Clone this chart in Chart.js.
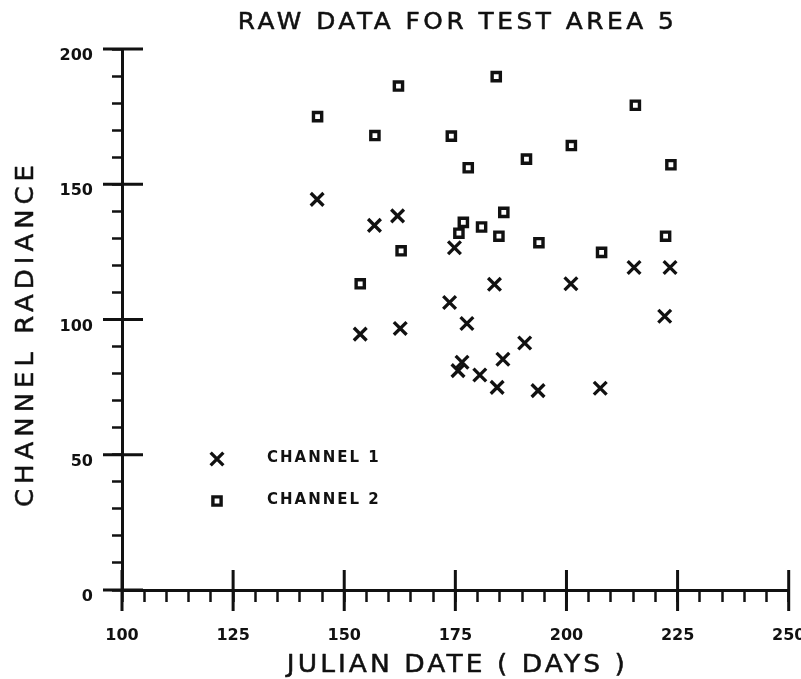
<!DOCTYPE html>
<html>
<head>
<meta charset="utf-8">
<script src="https://cdn.jsdelivr.net/npm/chart.js@4.4.1/dist/chart.umd.min.js"></script>
<style>
  html, body { margin: 0; padding: 0; background: #fff; }
  #wrap { width: 801px; height: 679px; }
</style>
</head>
<body>
<div id="wrap"><canvas id="rawChart"></canvas></div>
<script>
// chart text
const titleText = 'RAW DATA FOR TEST AREA 5';
const xTitle = 'JULIAN DATE ( DAYS )';
const yTitle = 'CHANNEL RADIANCE';
const seriesNames = ['CHANNEL 1', 'CHANNEL 2'];

// channel 1 (crosses): julian day / radiance
const ch1Days   = [143.9, 153.6, 156.8, 162.0, 162.6, 173.7, 174.8, 175.6, 176.5, 177.6, 180.5,
                   183.8, 184.4, 185.7, 190.6, 193.6, 201.0, 207.6, 215.2, 222.1, 223.3];
const ch1Values = [144.4,  94.6, 134.8, 138.3,  96.7, 106.3, 126.5,  81.1,  84.2,  98.5,  79.5,
                   113.0,  74.9,  85.3,  91.3,  73.7, 113.2,  74.6, 119.2, 101.2, 119.2];

// channel 2 (squares)
const ch2Days   = [144.0, 153.6, 156.9, 162.2, 162.8, 174.1, 175.8, 176.8, 177.9, 180.9,
                   184.2, 184.8, 185.9, 191.0, 193.8, 201.1, 207.9, 215.5, 222.3, 223.5];
const ch2Values = [175.0, 113.2, 168.0, 186.3, 125.4, 167.8, 131.9, 135.9, 156.1, 134.2,
                   189.8, 130.8, 139.6, 159.3, 128.4, 164.3, 124.8, 179.2, 130.8, 157.2];

// axes
const xTicks = [100, 125, 150, 175, 200, 225, 250];
const yTicks = [0, 50, 100, 150, 200];
const xMinorStep = 5;
const yMinorStep = 10;

const ink = '#111';

const toPoints = (xs, ys) => xs.map((d, i) => ({ x: d, y: ys[i] }));

// wide plotter-like lettering: slightly stretched glyphs, spaced to fill a given width
function plotterLabel(ctx, text, cx, baseY, font, targetWidth, stretch) {
  ctx.save();
  ctx.font = font;
  ctx.letterSpacing = '0px';
  const natural = ctx.measureText(text).width;
  const spacing = Math.max(0, (targetWidth / stretch - natural) / (text.length - 1));
  ctx.letterSpacing = spacing + 'px';
  const w = natural + spacing * (text.length - 1);
  ctx.translate(cx, baseY);
  ctx.scale(stretch, 1);
  ctx.textAlign = 'left';
  ctx.textBaseline = 'alphabetic';
  ctx.lineWidth = 0.5;
  ctx.lineJoin = 'round';
  ctx.fillText(text, -w / 2, 0);
  ctx.strokeText(text, -w / 2, 0);
  ctx.restore();
}

// long ticks crossing the axes at the labelled values
const majorTicks = {
  id: 'majorTicks',
  afterDraw(chart) {
    const { ctx, scales: { x, y } } = chart;
    ctx.save();
    ctx.strokeStyle = ink;
    ctx.lineWidth = 3;
    ctx.beginPath();
    xTicks.forEach(v => {
      const px = x.getPixelForValue(v);
      ctx.moveTo(px, x.top - 20);
      ctx.lineTo(px, x.top + 21);
    });
    yTicks.forEach(v => {
      const py = y.getPixelForValue(v);
      ctx.moveTo(y.right - 19, py);
      ctx.lineTo(y.right + 21, py);
    });
    ctx.stroke();
    ctx.restore();
  }
};

// titles and the legend inside the plot
const plotterText = {
  id: 'plotterText',
  afterDraw(chart) {
    const { ctx, chartArea: area } = chart;
    const cx = (area.left + area.right) / 2 + 0.5;
    ctx.save();
    ctx.fillStyle = ink;
    ctx.strokeStyle = ink;
    plotterLabel(ctx, titleText, cx, 28.5, '23px "DejaVu Sans"', 436, 1.08);
    plotterLabel(ctx, xTitle, cx, 672, '25px "DejaVu Sans"', 338, 1.06);

    ctx.save();
    ctx.translate(33, 336);
    ctx.rotate(-Math.PI / 2);
    plotterLabel(ctx, yTitle, 0, 0, '24px "DejaVu Sans"', 342, 1.08);
    ctx.restore();

    // legend
    const ds = chart.data.datasets;
    const rows = [459, 501];
    ds.forEach((d, i) => {
      ctx.strokeStyle = ink;
      ctx.fillStyle = d.pointBackgroundColor || ink;
      ctx.lineWidth = d.pointBorderWidth;
      Chart.helpers.drawPoint(ctx, {
        pointStyle: d.pointStyle,
        radius: d.pointRadius,
        borderWidth: d.pointBorderWidth,
        rotation: 0
      }, area.left + 95, rows[i]);
      ctx.fillStyle = ink;
      ctx.font = 'bold 15px "DejaVu Sans"';
      ctx.letterSpacing = '2px';
      ctx.textAlign = 'left';
      ctx.textBaseline = 'alphabetic';
      ctx.fillText(d.label, area.left + 145, rows[i] + 3);
    });
    ctx.restore();
  }
};

new Chart(document.getElementById('rawChart'), {
  type: 'scatter',
  data: {
    datasets: [
      {
        label: seriesNames[0],
        data: toPoints(ch1Days, ch1Values),
        pointStyle: 'crossRot',
        pointRadius: 9,
        pointBorderWidth: 3.3,
        borderColor: ink,
        pointBorderColor: ink,
        showLine: false,
        clip: false
      },
      {
        label: seriesNames[1],
        data: toPoints(ch2Days, ch2Values),
        pointStyle: 'rect',
        pointRadius: 5.8,
        pointBorderWidth: 3.4,
        borderColor: ink,
        pointBorderColor: ink,
        pointBackgroundColor: '#fff',
        showLine: false,
        clip: false
      }
    ]
  },
  options: {
    responsive: true,
    maintainAspectRatio: false,
    animation: false,
    devicePixelRatio: 1,
    layout: { padding: { top: 49, right: 10, left: 0, bottom: 0 } },
    plugins: {
      legend: { display: false },
      tooltip: { enabled: false },
      title: { display: false }
    },
    scales: {
      x: {
        type: 'linear',
        min: xTicks[0],
        max: xTicks[xTicks.length - 1],
        afterFit: s => { s.height = 89; s.paddingRight = 0; s.paddingLeft = 0; },
        ticks: {
          stepSize: xMinorStep,
          autoSkip: false,
          maxRotation: 0,
          padding: 24,
          color: ink,
          font: { family: 'DejaVu Sans', size: 16, weight: 'bold' },
          callback: v => (xTicks.includes(v) ? String(v) : '')
        },
        grid: {
          drawOnChartArea: false,
          drawTicks: true,
          tickLength: 12,
          tickWidth: 2.5,
          tickColor: ink
        },
        border: { display: true, color: ink, width: 3 }
      },
      y: {
        type: 'linear',
        min: yTicks[0],
        max: yTicks[yTicks.length - 1],
        afterFit: s => { s.width = 122; },
        ticks: {
          stepSize: yMinorStep,
          autoSkip: false,
          padding: 19,
          labelOffset: 7,
          color: ink,
          font: { family: 'DejaVu Sans', size: 16, weight: 'bold' },
          callback: v => (yTicks.includes(v) ? String(v) : '')
        },
        grid: {
          drawOnChartArea: false,
          drawTicks: true,
          tickLength: 10,
          tickWidth: 2.5,
          tickColor: ink
        },
        border: { display: true, color: ink, width: 3 }
      }
    }
  },
  plugins: [majorTicks, plotterText]
});
</script>
</body>
</html>
